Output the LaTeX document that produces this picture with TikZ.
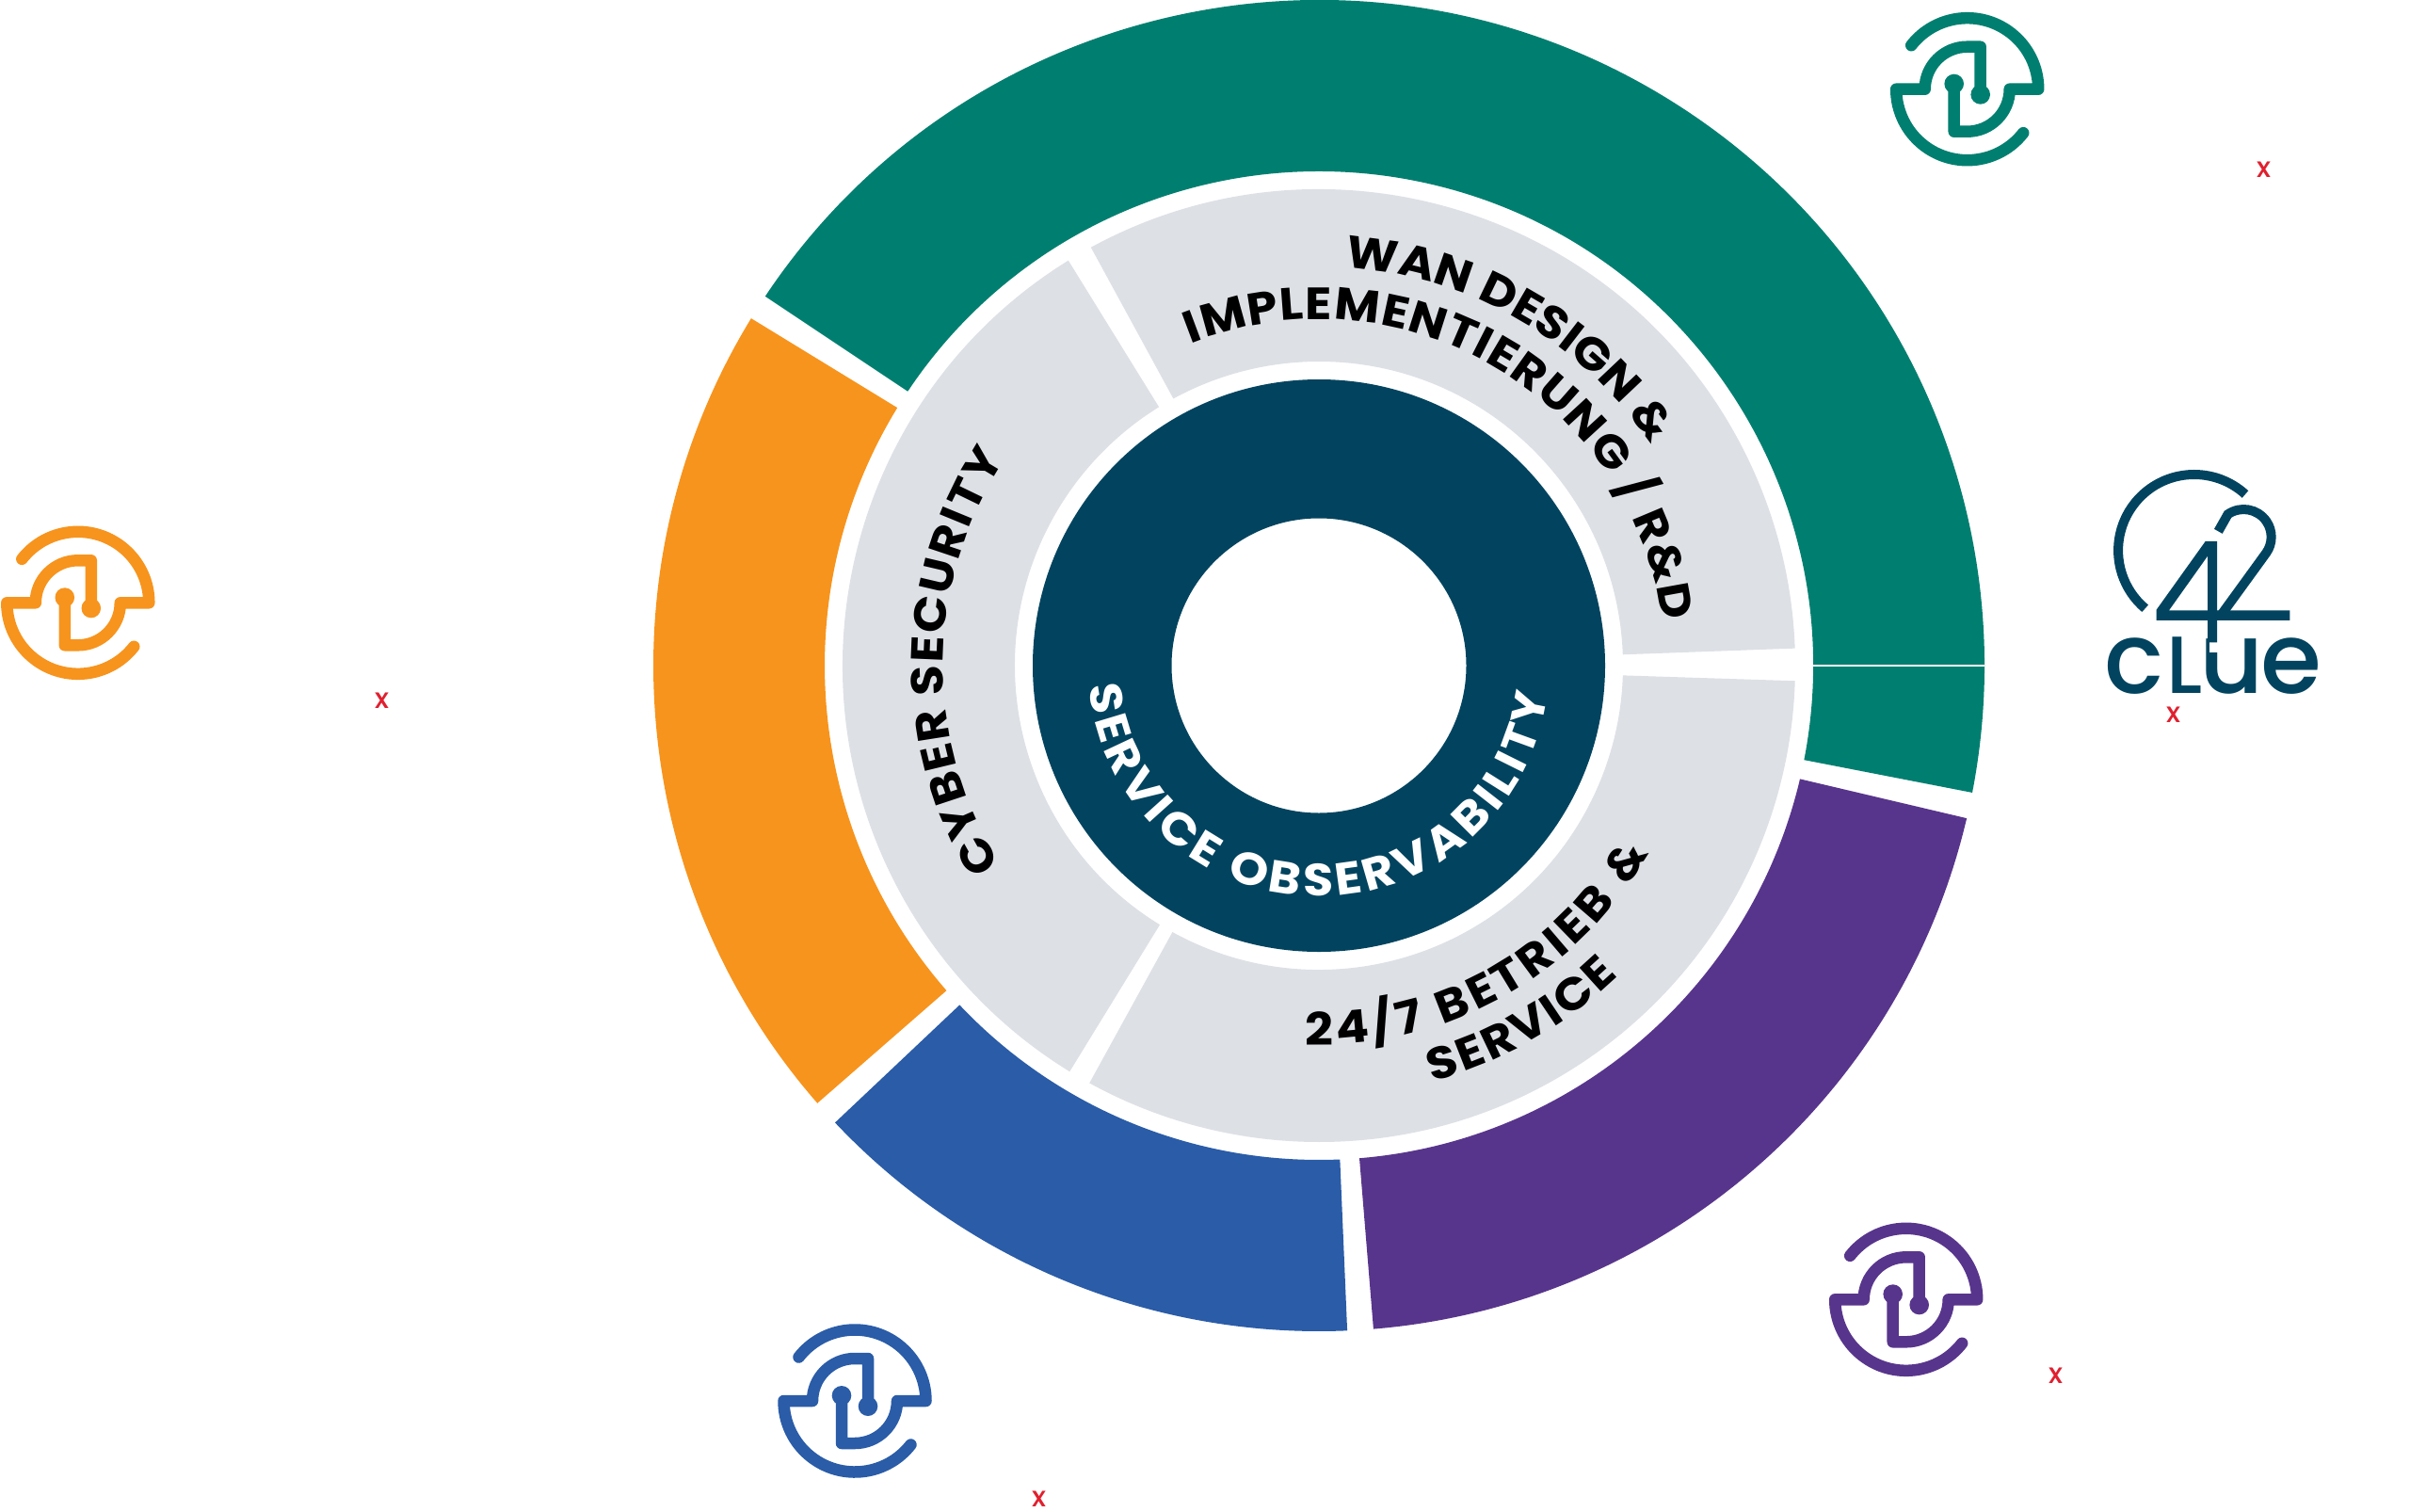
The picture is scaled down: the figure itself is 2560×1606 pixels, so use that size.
\documentclass[tikz,border=0pt]{standalone}
\usepackage{fontspec}
\usetikzlibrary{decorations.text}
\newfontfamily\popfont{Poppins}
\newfontfamily\popheavy{Poppins Bold}[FakeStretch=1.09]
\newfontfamily\popmid{Poppins Medium}
\definecolor{cgreen}{HTML}{007F70}
\definecolor{corange}{HTML}{F7941D}
\definecolor{cblue}{HTML}{2A5CA8}
\definecolor{cpurple}{HTML}{58358C}
\definecolor{cgray}{HTML}{DDE0E5}
\definecolor{cdark}{HTML}{02445F}
\definecolor{cred}{HTML}{E0202F}
\newcommand\sectorshape[5]{% colour, from, to, outer, inner
  \fill[#1] ([shift={(#2:#4pt)}]hub) arc[start angle=#2,end angle=#3,radius=#4pt]
    -- ([shift={(#3:#5pt)}]hub) arc[start angle=#3,end angle=#2,radius=#5pt] -- cycle;}
\newcommand\swirlhalf{%
  \draw (142:75.5pt) arc[start angle=142,end angle=0,radius=75.5pt] -- (45pt,0pt)
    arc[start angle=0,end angle=-90,radius=45pt] -- (-14pt,-45pt) -- (-14pt,5.7pt);
  \fill (-14pt,5.7pt) circle[radius=10.3pt];}
\newcommand\swirlmark[4]{% x, y, scale, colour
  \begin{scope}[shift={(#1pt,#2pt)},scale=#3,draw=#4,fill=#4,line width=#3*12.5pt,line cap=round,line join=round]
    \swirlhalf
    \begin{scope}[rotate=180]\swirlhalf\end{scope}
  \end{scope}}
\tikzset{
  ringtext/.style n args={3}{decorate,decoration={text along path,
     text={|\popheavy\fontsize{48}{48}\selectfont\color{#3}|#1},text align={fit to path}}},
  logotext/.style={anchor=base west,inner sep=0pt,outer sep=0pt,text=white},
  groupx/.style={anchor=base west,inner sep=0pt,outer sep=0pt,text=cred,font=\popmid\fontsize{30}{30}\selectfont},
  grouptext/.style={anchor=base west,inner sep=0pt,outer sep=0pt,text=white,font=\popfont\fontsize{20}{20}\selectfont},
}
\begin{document}
\begin{tikzpicture}[x=1pt,y=1pt]
\useasboundingbox (0,-1606) rectangle (2560,0);
\fill[white] (0,-1606) rectangle (2560,0);
\coordinate (hub) at (1401,-707);
% outer ring
\sectorshape{cgreen}{146.3}{-11}{707}{525}
\sectorshape{cpurple}{-13.26}{-85.3}{707}{525}
\sectorshape{cblue}{-87.56}{-136.64}{707}{525}
\sectorshape{corange}{221.1}{148.55}{707}{525}
\coordinate (splitA) at (1925.7,-706.7);
\coordinate (splitB) at (2107.7,-706.7);
\draw[white,line width=2pt] (splitA) -- (splitB);
% grey ring
\sectorshape{cgray}{118.6}{2.08}{506}{323}
\sectorshape{cgray}{-1.84}{-118.8}{506}{323}
\sectorshape{cgray}{121.74}{238.45}{506}{323}
% dark core
\fill[cdark,even odd rule] (hub) circle[radius=304pt] (hub) circle[radius=156.5pt];
% ring texts
\path[ringtext={WAN DESIGN {\&}}{}{black}] ([shift={(86.3:424pt)}]hub) arc[start angle=86.3,end angle=34,radius=424pt];
\path[ringtext={IMPLEMENTIERUNG / R{\&}D}{}{black}] ([shift={(111.7:368pt)}]hub) arc[start angle=111.7,end angle=7.3,radius=368pt];
\path[ringtext={24/7 BETRIEB {\&}}{}{black}] ([shift={(268:403pt)}]hub) arc[start angle=268,end angle=330.3,radius=403pt];
\path[ringtext={SERVICE}{}{black}] ([shift={(285.3:458pt)}]hub) arc[start angle=285.3,end angle=314,radius=458pt];
\path[ringtext={CYBER SECURITY}{}{black}] ([shift={(212:399pt)}]hub) arc[start angle=212,end angle=146.7,radius=399pt];
\path[ringtext={SERVICE OBSERVABILITY}{}{white}] ([shift={(185:245pt)}]hub) arc[start angle=185,end angle=352.8,radius=245pt];
% logos
\swirlmark{2089.7}{-94.7}{1}{cgreen}
\swirlmark{82.8}{-640.3}{1}{corange}
\swirlmark{2024.7}{-1380.3}{1}{cpurple}
\swirlmark{908}{-1488}{1}{cblue}
\swirlmark{1400.8}{-706}{1.22}{white}
% white connectors
\coordinate (gA) at (2012,-163); \coordinate (gB) at (1950,-220);
\draw[white,line width=2pt] (gA) -- (gB);
\coordinate (bA) at (1113,-1373); \coordinate (bB) at (1077,-1457);
\draw[white,line width=2pt] (bA) -- (bB);
\coordinate (pA) at (1880,-1267); \coordinate (pB) at (1937,-1323);
\draw[white,line width=2pt] (pA) -- (pB);
% white wordmarks
\node[logotext,font=\popfont\fontsize{122}{122}\selectfont] (nicosG) at (2189,-155) {nicos};
\node[groupx] (xG) at (2397,-188) {x};
\node[grouptext] (grG) at (2416,-187) {antaro group};
\node[logotext,font=\popfont\fontsize{64}{64}\selectfont] (nicosO) at (181,-668) {nicos};
\node[logotext,font=\popfont\fontsize{54}{54}\selectfont] (cyberO) at (181,-722) {cyber defense};
\node[groupx] (xO) at (398,-752) {x};
\node[grouptext] (grO) at (417,-751) {antaro group};
\node[logotext,font=\popfont\fontsize{64}{64}\selectfont] (nicosB) at (1007,-1517) {nicos};
\node[logotext,font=\popfont\fontsize{64}{64}\selectfont] (ausB) at (1007,-1570) {australia};
\node[groupx] (xB) at (1096,-1600) {x};
\node[grouptext] (grB) at (1115,-1599) {antaro group};
\node[logotext,font=\popfont\fontsize{122}{122}\selectfont] (wognP) at (2125,-1442) {wogn};
\node[groupx] (xP) at (2176,-1469) {x};
\node[grouptext] (grP) at (2195,-1468) {antaro group};
\node[groupx] (xC) at (2301,-767) {x};
\node[grouptext] (grC) at (2320,-766) {antaro group};
% 42 clue
\node[anchor=base west,inner sep=0pt,outer sep=0pt,text=cdark] (clue) at (2235,-736.7)
  {\popmid\fontsize{105}{105}\selectfont c\kern3pt\fontsize{86}{86}\selectfont L\kern-3pt\fontsize{105}{105}\selectfont u\kern-3pt e};
\begin{scope}[shift={(2200,-470)},xscale=.3333,yscale=-.3333]
  \fill[white] (440,610) rectangle (500,668);
  \draw[cdark,line width=10pt] (555,165) arc[start angle=-47.7,end angle=-229.8,radius=242];
  \fill[cdark,even odd rule] (428,315) -- (465,315) -- (465,535) -- (697,535) -- (697,567) -- (465,567)
     -- (465,637) -- (435,637) -- (435,567) -- (272,567) -- (272,533) -- cycle
     (435,362) -- (435,535) -- (312,535) -- cycle;
  \draw[cdark,line width=10pt] (469,283) -- (499.5,229) arc[start angle=-125,end angle=35,radius=88] -- (478,550);
\end{scope}
\end{tikzpicture}
\end{document}
